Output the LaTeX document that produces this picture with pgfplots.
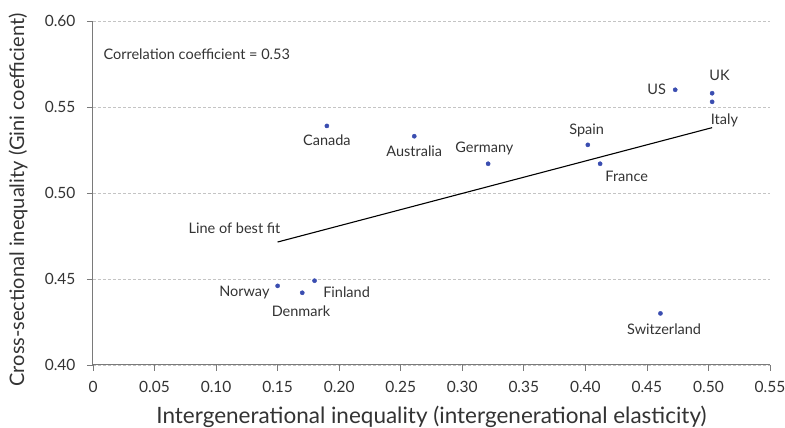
\documentclass[border=0pt]{standalone}
\usepackage{fontspec}
\setmainfont{Lato}
\usepackage{pgfplots}
\pgfplotsset{compat=1.18}
\definecolor{dotblue}{HTML}{3A4DB0}
\definecolor{axisgray}{HTML}{7A7A7A}
\definecolor{gridgray}{HTML}{C4C4C4}
\definecolor{txt}{HTML}{333333}

\begin{document}
\begin{tikzpicture}[x=1pt,y=1pt]
\useasboundingbox (-93,-63) rectangle (692,365);
\begin{axis}[
    scale only axis,
    anchor=south west, at={(0,0)},
    width=677pt, height=344pt,
    xmin=0, xmax=0.55, ymin=0.40, ymax=0.60,
    axis x line*=bottom, axis y line*=left,
    axis line style={axisgray, line width=1pt},
    xtick={0,0.05,...,0.55},
    ytick={0.40,0.45,...,0.60},
    xticklabels={0,0.05,0.10,0.15,0.20,0.25,0.30,0.35,0.40,0.45,0.50,0.55},
    yticklabels={0.40,0.45,0.50,0.55,0.60},
    tick align=outside,
    major tick length=6pt,
    tick style={axisgray, line width=0.8pt},
    ymajorgrids,
    grid style={gridgray, dash pattern=on 3pt off 2pt, line width=0.6pt},
    ticklabel style={font=\fontsize{15.5}{17}\selectfont, text=txt},
    xticklabel style={yshift=-7pt},
    yticklabel style={xshift=-8pt},
    xlabel={Intergenerational inequality (intergenerational elasticity)},
    ylabel={Cross-sectional inequality (Gini coefficient)},
    xlabel style={font=\fontsize{22.5}{25}\selectfont, text=txt,
        at={(axis description cs:0.5,-0.152)}, anchor=center},
    ylabel style={font=\fontsize{20}{22}\selectfont, text=txt,
        at={(axis description cs:-0.1108,0.48)}, anchor=center},
    clip=false,
]
\addplot[only marks, mark=*, mark size=2.1pt, color=dotblue] coordinates {
    (0.190,0.539) (0.261,0.533) (0.321,0.517) (0.402,0.528) (0.412,0.517)
    (0.473,0.560) (0.503,0.558) (0.503,0.553)
    (0.150,0.446) (0.170,0.442) (0.180,0.449) (0.461,0.430)
};
\addplot[black, line width=1.1pt] coordinates {(0.150,0.4715) (0.503,0.538)};

\begin{scope}[every node/.style={font=\fontsize{14.5}{16}\selectfont, text=txt}]
\node[anchor=west] at (axis cs:0.0057,0.5808) {Correlation coefficient = 0.53};
\node at (axis cs:0.190,0.5308) {Canada};
\node at (axis cs:0.261,0.5244) {Australia};
\node at (axis cs:0.318,0.5256) {Germany};
\node at (axis cs:0.401,0.5366) {Spain};
\node at (axis cs:0.4336,0.5099) {France};
\node at (axis cs:0.458,0.560) {US};
\node at (axis cs:0.509,0.5686) {UK};
\node at (axis cs:0.513,0.5424) {Italy};
\node at (axis cs:0.115,0.4797) {Line of best fit};
\node at (axis cs:0.123,0.4424) {Norway};
\node at (axis cs:0.169,0.4314) {Denmark};
\node at (axis cs:0.206,0.4424) {Finland};
\node at (axis cs:0.464,0.4209) {Switzerland};
\end{scope}
\end{axis}
\end{tikzpicture}
\end{document}
